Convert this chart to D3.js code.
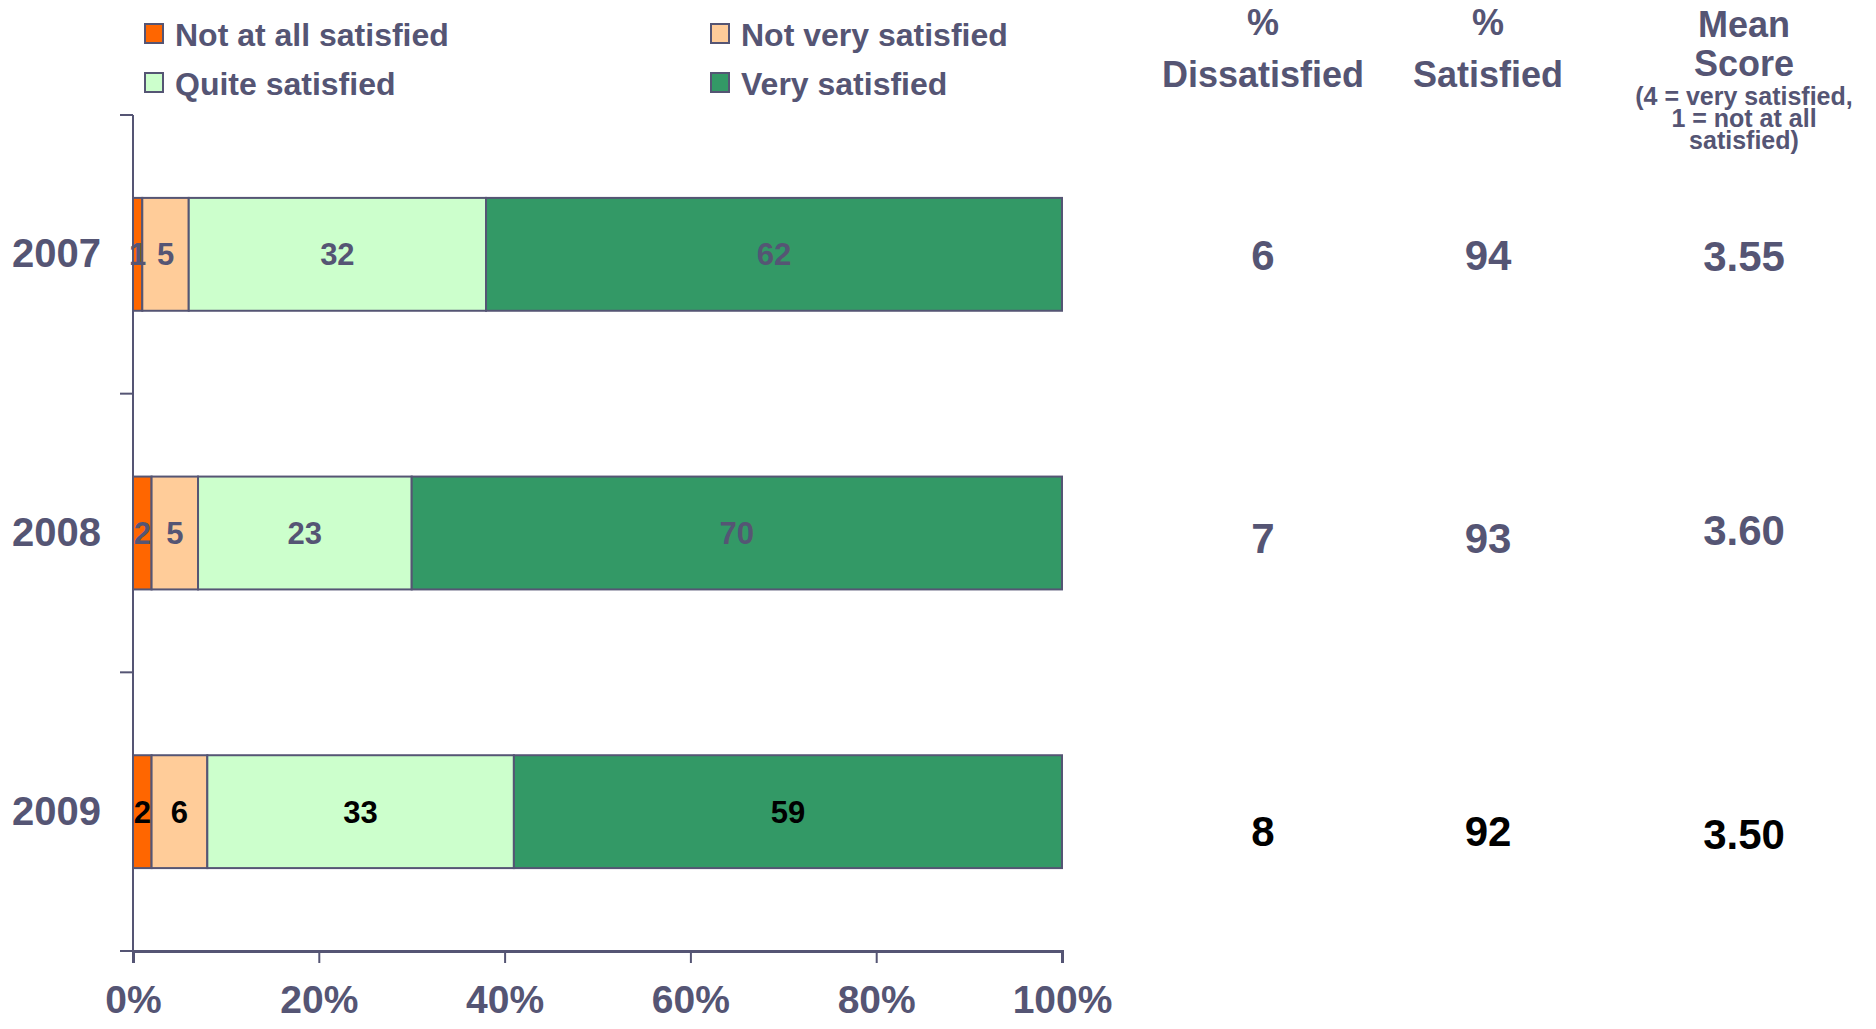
<!DOCTYPE html>
<html>
<head>
<meta charset="utf-8">
<script src="https://cdn.jsdelivr.net/npm/d3@7/dist/d3.min.js"></script>
<style>
  html, body { margin: 0; padding: 0; background: #ffffff; }
  svg { display: block; }
  text { font-family: "Liberation Sans", Arial, sans-serif; font-weight: bold; }
</style>
</head>
<body>
<svg id="chart" width="1876" height="1029"></svg>
<script>
// Satisfaction survey, share of respondents per answer (%)
const years = ["2007", "2008", "2009"];
const categories = ["Not at all satisfied", "Not very satisfied", "Quite satisfied", "Very satisfied"];
const notAtAll = [1, 2, 2];
const notVery = [5, 5, 6];
const quite = [32, 23, 33];
const very = [62, 70, 59];
const pctDissatisfied = [6, 7, 8];
const pctSatisfied = [94, 93, 92];
const meanScore = ["3.55", "3.60", "3.50"];
const xTicks = [0, 20, 40, 60, 80, 100];
const meanNote = ["(4 = very satisfied,", "1 = not at all", "satisfied)"];

const seriesValues = [notAtAll, notVery, quite, very];
const colors = ["#ff6600", "#ffcc99", "#ccffcc", "#339966"];
const ink = "#555574";
const rowInk = ["#555574", "#555574", "#000000"];

const svg = d3.select("#chart");

// Scales
const x = d3.scaleLinear().domain([0, 100]).range([133, 1062]);
const y = d3.scaleBand().domain(years).range([115, 951])
  .paddingInner(0.595).paddingOuter(0.2975);

// Stack the four answer categories per year
const rows = years.map((yr, i) => {
  const r = { year: yr };
  categories.forEach((c, k) => { r[c] = seriesValues[k][i]; });
  return r;
});
const stacked = d3.stack().keys(categories)(rows);

// Y axis: vertical line with ticks between categories
const yAxisG = svg.append("g");
yAxisG.append("line")
  .attr("x1", x(0)).attr("x2", x(0))
  .attr("y1", y.range()[0]).attr("y2", y.range()[1])
  .attr("stroke", ink).attr("stroke-width", 2);
const boundaries = d3.range(years.length + 1).map(i => y.range()[0] + i * y.step());
yAxisG.selectAll("line.tick").data(boundaries).join("line")
  .attr("class", "tick")
  .attr("x1", x(0) - 13).attr("x2", x(0))
  .attr("y1", d => d).attr("y2", d => d)
  .attr("stroke", ink).attr("stroke-width", 2);

// X axis
const xAxis = d3.axisBottom(x).tickValues(xTicks).tickFormat(d => d + "%")
  .tickSize(12).tickPadding(22);
const xAxisG = svg.append("g").attr("transform", `translate(0,${y.range()[1]})`).call(xAxis);
xAxisG.select(".domain").attr("stroke", ink).attr("stroke-width", 3);
xAxisG.selectAll(".tick line").attr("stroke", ink).attr("stroke-width", 2);
xAxisG.selectAll(".tick text")
  .attr("fill", ink)
  .style("font-family", "'Liberation Sans', Arial, sans-serif")
  .style("font-weight", "bold")
  .style("font-size", "39px")
  .attr("dy", "0.71em");

// Year labels
svg.append("g").selectAll("text").data(years).join("text")
  .attr("x", 101)
  .attr("y", d => y(d) + y.bandwidth() / 2 + 13)
  .attr("text-anchor", "end")
  .attr("fill", ink)
  .style("font-size", "40px")
  .text(d => d);

// Bars
const layers = svg.append("g").selectAll("g").data(stacked).join("g")
  .attr("fill", (d, i) => colors[i]);
layers.selectAll("rect").data(d => d).join("rect")
  .attr("x", d => x(d[0]))
  .attr("y", d => y(d.data.year))
  .attr("width", d => x(d[1]) - x(d[0]))
  .attr("height", y.bandwidth())
  .attr("stroke", ink)
  .attr("stroke-width", 2);

// Segment value labels
const labelG = svg.append("g");
stacked.forEach(layer => {
  layer.forEach((d, i) => {
    labelG.append("text")
      .attr("x", (x(d[0]) + x(d[1])) / 2)
      .attr("y", y(d.data.year) + y.bandwidth() / 2 + 11)
      .attr("text-anchor", "middle")
      .attr("fill", rowInk[i])
      .style("font-size", "31px")
      .text(d[1] - d[0]);
  });
});

// Legend
const legendPos = [[144, 46], [710, 46], [144, 95], [710, 95]];
const legend = svg.append("g").selectAll("g").data(categories).join("g")
  .attr("transform", (d, i) => `translate(${legendPos[i][0]},${legendPos[i][1]})`);
legend.append("rect")
  .attr("x", 1).attr("y", -22).attr("width", 18).attr("height", 19)
  .attr("fill", (d, i) => colors[i])
  .attr("stroke", ink).attr("stroke-width", 2);
legend.append("text")
  .attr("x", 31).attr("y", 0)
  .attr("fill", ink)
  .style("font-size", "32px")
  .text(d => d);

// Summary columns
const colX = [1263, 1488, 1744];
const header = svg.append("g").attr("fill", ink).attr("text-anchor", "middle");
header.append("text").attr("x", colX[0]).attr("y", 35).style("font-size", "36px").text("%");
header.append("text").attr("x", colX[0]).attr("y", 87).style("font-size", "36px").text("Dissatisfied");
header.append("text").attr("x", colX[1]).attr("y", 35).style("font-size", "36px").text("%");
header.append("text").attr("x", colX[1]).attr("y", 87).style("font-size", "36px").text("Satisfied");
header.append("text").attr("x", colX[2]).attr("y", 37).style("font-size", "36px").text("Mean");
header.append("text").attr("x", colX[2]).attr("y", 76).style("font-size", "36px").text("Score");
header.append("g").selectAll("text").data(meanNote).join("text")
  .attr("x", colX[2])
  .attr("y", (d, i) => 105 + i * 22)
  .style("font-size", "25px")
  .text(d => d);

// Row values: baseline nudges relative to each bar's centre
const statNudge = [16, 20, 34];
const meanNudge = [17, 12, 37];
const statG = svg.append("g").attr("text-anchor", "middle").style("font-size", "42px");
years.forEach((yr, i) => {
  const cy = y(yr) + y.bandwidth() / 2;
  statG.append("text").attr("x", colX[0]).attr("y", cy + statNudge[i]).attr("fill", rowInk[i]).text(pctDissatisfied[i]);
  statG.append("text").attr("x", colX[1]).attr("y", cy + statNudge[i]).attr("fill", rowInk[i]).text(pctSatisfied[i]);
  statG.append("text").attr("x", colX[2]).attr("y", cy + meanNudge[i]).attr("fill", rowInk[i]).text(meanScore[i]);
});
</script>
</body>
</html>
